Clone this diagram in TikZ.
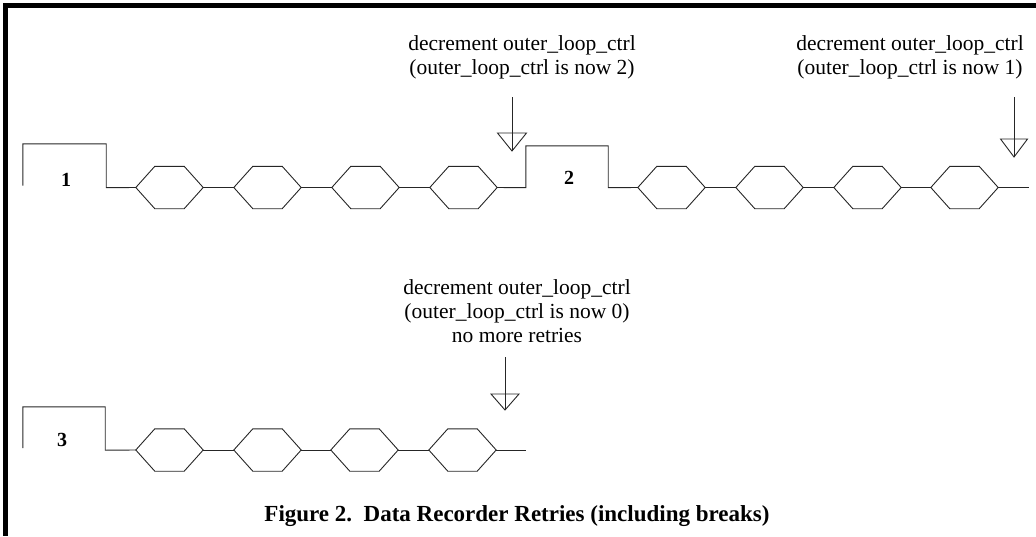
\documentclass[tikz,border=0pt]{standalone}
\usepackage{fontspec}
\setmainfont{Liberation Serif}
\begin{document}
\begin{tikzpicture}[x=1pt,y=-1pt,
  wire/.style={line width=0.9pt,draw=black!85},
  hexnode/.style={minimum width=67pt,minimum height=42pt,inner sep=0pt,draw=none},
  stepbox/.style={inner sep=0pt,draw=none},
  lbl/.style={font=\fontsize{20}{22}\selectfont\bfseries,inner sep=0pt},
  note/.style={font=\fontsize{21.5}{24}\selectfont,align=center,inner sep=0pt,anchor=north},
  capt/.style={font=\fontsize{23}{26}\selectfont\bfseries,inner sep=0pt,anchor=base}]
\useasboundingbox (0,0) rectangle (1036,536);
% frame
\fill (3,3) rectangle (1036,7.5);
\fill (3,3) rectangle (8,536);
% step boxes
\node[stepbox,minimum width=83pt,minimum height=43.5pt] (b1) at (64.5,165.75) {};
\node[stepbox,minimum width=82pt,minimum height=41.5pt] (b2) at (567,166.75) {};
\node[stepbox,minimum width=82pt,minimum height=43pt] (b3) at (64,428.5) {};
\node[lbl] (l1) at (66,180) {1};
\node[lbl] (l2) at (569,178) {2};
\node[lbl] (l3) at (62,440) {3};
% hexagons
\node[hexnode] (h1) at (169.5,187.5) {};
\node[hexnode] (h2) at (267.5,187.5) {};
\node[hexnode] (h3) at (365.5,187.5) {};
\node[hexnode] (h4) at (463.5,187.5) {};
\node[hexnode] (h5) at (671.5,187.5) {};
\node[hexnode] (h6) at (769.5,187.5) {};
\node[hexnode] (h7) at (867.5,187.5) {};
\node[hexnode] (h8) at (964.5,187.5) {};
\node[hexnode] (h9) at (169.5,450) {};
\node[hexnode] (h10) at (267.5,450) {};
\node[hexnode] (h11) at (364.5,450) {};
\node[hexnode] (h12) at (462.5,450) {};
\foreach \h in {h1,h2,h3,h4,h5,h6,h7,h8,h9,h10,h11,h12}
  \draw[wire] (\h.west) -- ([xshift=19pt]\h.north west) -- ([xshift=-19pt]\h.north east)
     -- (\h.east) -- ([xshift=-19pt]\h.south east) -- ([xshift=19pt]\h.south west) -- cycle;
% row 1
\draw[wire] ([yshift=2pt]b1.south west) -- (b1.north west) -- (b1.north east) -- (b1.south east) -- (h1.west);
\draw[wire] (h1.east) -- (h2.west);
\draw[wire] (h2.east) -- (h3.west);
\draw[wire] (h3.east) -- (h4.west);
\draw[wire] (h4.east) -- (b2.south west) -- (b2.north west) -- (b2.north east) -- (b2.south east) -- (h5.west);
\draw[wire] (h5.east) -- (h6.west);
\draw[wire] (h6.east) -- (h7.west);
\draw[wire] (h7.east) -- (h8.west);
\coordinate (e1) at (1029,187.5);
\draw[wire] (h8.east) -- (e1);
% row 3
\draw[wire] ([yshift=2pt]b3.south west) -- (b3.north west) -- (b3.north east) -- (b3.south east) -- (h9.west);
\draw[wire] (h9.east) -- (h10.west);
\draw[wire] (h10.east) -- (h11.west);
\draw[wire] (h11.east) -- (h12.west);
\coordinate (e3) at (526,450);
\draw[wire] (h12.east) -- (e3);
% notes
\node[note] (t1) at (522,35) {decrement outer\_loop\_ctrl\\(outer\_loop\_ctrl is now 2)};
\node[note] (t2) at (910,35) {decrement outer\_loop\_ctrl\\(outer\_loop\_ctrl is now 1)};
\node[note] (t3) at (517,279) {decrement outer\_loop\_ctrl\\(outer\_loop\_ctrl is now 0)\\no more retries};
% arrows
\coordinate (a1s) at (512,97);  \coordinate (a1t) at (512,151);
\coordinate (a2s) at (1014,97); \coordinate (a2t) at (1014,157);
\coordinate (a3s) at (505,357); \coordinate (a3t) at (505,410);
\draw[wire] (a1s) -- (a1t);
\draw[wire] (a1t) -- ++(-14.5,-18) -- ++(29,0) -- cycle;
\draw[wire] (a2s) -- (a2t);
\draw[wire] (a2t) -- ++(-13.5,-18) -- ++(27,0) -- cycle;
\draw[wire] (a3s) -- (a3t);
\draw[wire] (a3t) -- ++(-14,-16) -- ++(28,0) -- cycle;
% caption
\node[capt] (cap) at (517,521) {Figure 2.\ \ Data Recorder Retries (including breaks)};
\end{tikzpicture}
\end{document}
